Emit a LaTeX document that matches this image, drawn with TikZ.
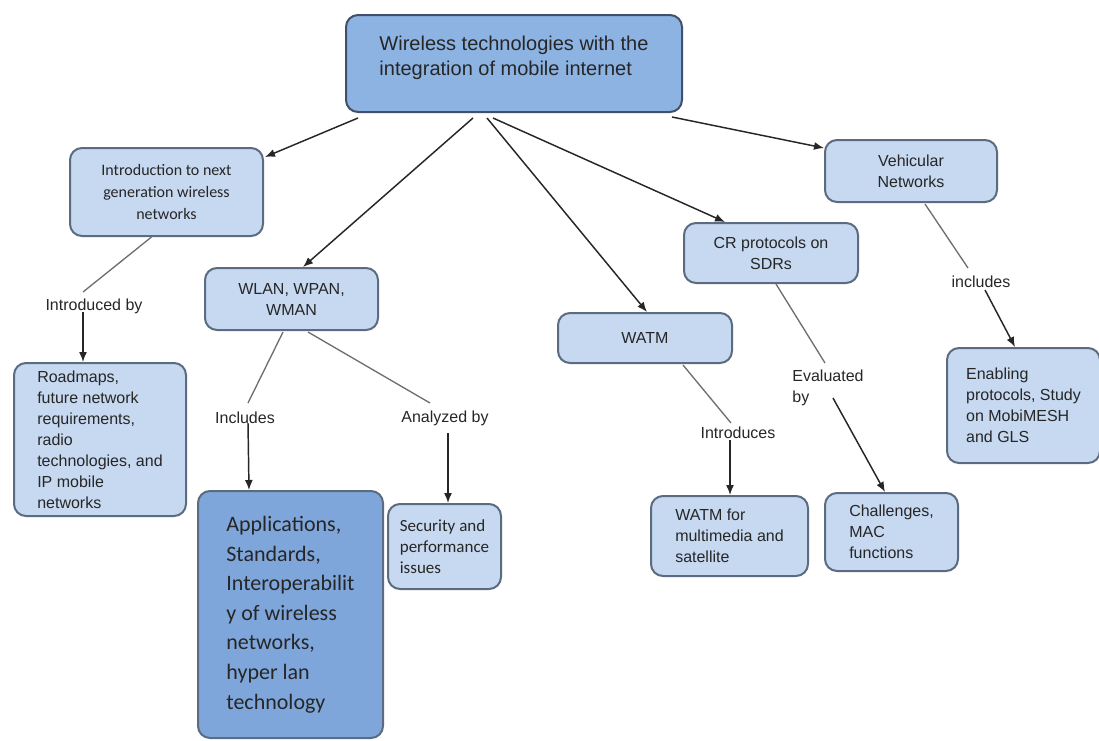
\documentclass[tikz,border=0pt]{standalone}
\usepackage{fontspec}
\setmainfont{Liberation Sans}
\newfontfamily\calibri{Carlito}
\usetikzlibrary{arrows.meta}
\definecolor{mapInk}{HTML}{262626}
\definecolor{mapLine}{HTML}{6E6E6E}
\definecolor{mapFill}{HTML}{C6D9F1}
\definecolor{mapEdge}{HTML}{5B6B80}
\definecolor{rootFill}{HTML}{8DB3E2}
\definecolor{rootEdge}{HTML}{3F5068}
\definecolor{deepFill}{HTML}{7FA6DA}
\def\px{0.75pt}
\tikzset{
  every node/.style={font=\fontsize{12pt}{15.75pt}\selectfont, text=mapInk},
  concept/.style={
    draw=mapEdge,
    fill=mapFill,
    line width=1.5pt,
    rounded corners=9pt,
    anchor=north west,
    inner sep=0pt
  },
  rootbox/.style={
    concept,
    fill=rootFill,
    draw=rootEdge,
    align=left,
    font=\fontsize{15pt}{18.75pt}\selectfont
  },
  deepbox/.style={
    concept,
    fill=deepFill,
    draw=mapEdge,
    align=left,
    font=\calibri\fontsize{16.5pt}{22.2pt}\selectfont
  },
  linklabel/.style={inner sep=1pt, align=left},
  link/.style={
    draw=mapLine,
    line width=1pt
  },
  arrowlink/.style={
    -{Latex[length=7.5pt,width=6pt]},
    draw=mapInk,
    line width=1.1pt
  }
}

\begin{document}
\begin{tikzpicture}[x=0.75pt,y=-0.75pt]
  \useasboundingbox (0,0) rectangle (1099,740);

  % concept boxes
  \node[rootbox, minimum width=336*\px, minimum height=97*\px] (root) at (345,14)
    {Wireless technologies with the\\integration of mobile internet\\[-7.5pt]\mbox{}};
  \node[concept, align=center, minimum width=193*\px, minimum height=88*\px,
    font=\calibri\fontsize{12pt}{16.5pt}\selectfont] (intro) at (69,147)
    {Introduction to next\\generation wireless\\networks};
  \node[concept, align=center, minimum width=173*\px, minimum height=62*\px] (wlan) at (204,267)
    {WLAN, WPAN,\\WMAN};
  \node[concept, minimum width=174*\px, minimum height=50*\px] (watm) at (557,312) {WATM};
  \node[concept, align=center, minimum width=174*\px, minimum height=60*\px] (cr) at (683,222)
    {CR protocols on\\SDRs};
  \node[concept, align=center, minimum width=172*\px, minimum height=62*\px] (vehicular) at (824,139)
    {Vehicular\\Networks};

  \node[concept, align=left, minimum width=172*\px, minimum height=153*\px] (roadmaps) at (13,362)
    {Roadmaps,\\future network\\requirements,\\radio\\technologies, and\\IP mobile\\networks};
  \node[deepbox, minimum width=185*\px, minimum height=247*\px] (apps) at (197,490)
    {Applications,\\Standards,\\Interoperabilit\\y of wireless\\networks,\\hyper lan\\technology};
  \node[concept, align=left, minimum width=113*\px, minimum height=85*\px,
    font=\calibri\fontsize{12.75pt}{15.75pt}\selectfont] (security) at (387,503)
    {Security and\\performance\\issues};
  \node[concept, align=left, minimum width=157*\px, minimum height=80*\px] (watmfor) at (650,495)
    {WATM for\\multimedia and\\satellite};
  \node[concept, align=left, minimum width=133*\px, minimum height=78*\px] (challenges) at (824,492)
    {Challenges,\\MAC\\functions};
  \node[concept, align=left, minimum width=153*\px, minimum height=115*\px] (enabling) at (946,347)
    {Enabling\\protocols, Study\\on MobiMESH\\and GLS};

  % link labels
  \node[linklabel] (introducedBy) at (94,306) {Introduced by};
  \node[linklabel] (includesLbl) at (245,418) {Includes};
  \node[linklabel] (analyzedBy) at (445,418) {Analyzed by};
  \node[linklabel] (introduces) at (738,433) {Introduces};
  \node[linklabel] (evaluatedBy) at (828,388) {Evaluated\\by};
  \node[linklabel] (includesVeh) at (981,282) {includes};

  % arrows out of the root
  \draw[arrowlink] ([shift={(13,5)}]root.south west) -- ([shift={(1,10)}]intro.north east);
  \draw[arrowlink] ([shift={(128,5)}]root.south west) -- ([shift={(99,0)}]wlan.north west);
  \draw[arrowlink] ([shift={(142,5)}]root.south west) -- ([shift={(90,0)}]watm.north west);
  \draw[arrowlink] ([shift={(148,5)}]root.south west) -- ([shift={(42,0)}]cr.north west);
  \draw[arrowlink] ([shift={(-11,4)}]root.south east) -- ([shift={(0,9)}]vehicular.north west);

  % labelled links
  \draw[link] ([shift={(-15,0)}]intro.south) -- ([shift={(-11,-14)}]introducedBy.center);
  \draw[arrowlink] ([shift={(-11,6)}]introducedBy.center) -- ([shift={(70,0)}]roadmaps.north west);

  \draw[link] ([shift={(79,1)}]wlan.south west) -- ([shift={(3,-15)}]includesLbl.center);
  \draw[arrowlink] ([shift={(3,5)}]includesLbl.center) -- ([shift={(52,0)}]apps.north west);

  \draw[link] ([shift={(104,1)}]wlan.south west) -- ([shift={(-15,-15)}]analyzedBy.center);
  \draw[arrowlink] ([shift={(3,15)}]analyzedBy.center) -- ([shift={(61,0)}]security.north west);

  \draw[link] ([shift={(126,1)}]watm.south west) -- ([shift={(-7,-10)}]introduces.center);
  \draw[arrowlink] ([shift={(-8,7)}]introduces.center) -- ([shift={(80,0)}]watmfor.north west);

  \draw[link] ([shift={(93,0)}]cr.south west) -- ([shift={(-3,-25)}]evaluatedBy.center);
  \draw[arrowlink] ([shift={(5,10)}]evaluatedBy.center) -- ([shift={(61,0)}]challenges.north west);

  \draw[link] ([shift={(101,1)}]vehicular.south west) -- ([shift={(-13,-14)}]includesVeh.center);
  \draw[arrowlink] ([shift={(4,8)}]includesVeh.center) -- ([shift={(69,0)}]enabling.north west);
\end{tikzpicture}
\end{document}
